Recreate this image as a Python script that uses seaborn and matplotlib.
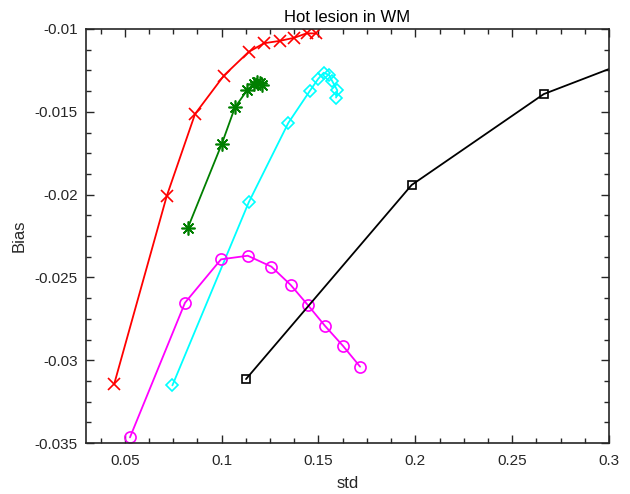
import numpy as np
import pandas as pd
import seaborn as sns
import matplotlib.pyplot as plt
from matplotlib.ticker import FixedLocator, FormatStrFormatter

# Data
red_x = [0.0445, 0.0717, 0.0863, 0.1012, 0.1139, 0.1219, 0.1299, 0.1375, 0.1439, 0.1487]
red_y = [-0.03146, -0.02008, -0.01513, -0.01281, -0.01139, -0.01086, -0.01072, -0.01053, -0.01026, -0.01027]

green_x = [0.0825, 0.1001, 0.1069, 0.1133, 0.1167, 0.1183, 0.1196, 0.1207]
green_y = [-0.02203, -0.01694, -0.01473, -0.01368, -0.01332, -0.01320, -0.01326, -0.01338]

cyan_x = [0.0746, 0.1140, 0.1344, 0.1456, 0.1498, 0.1527, 0.1555, 0.1570, 0.1597, 0.1591]
cyan_y = [-0.03152, -0.02047, -0.01568, -0.01373, -0.01302, -0.01264, -0.01278, -0.01312, -0.01370, -0.01414]

magenta_x = [0.0527, 0.0811, 0.0997, 0.1135, 0.1257, 0.1357, 0.1446, 0.1534, 0.1627, 0.1715]
magenta_y = [-0.03466, -0.02653, -0.02391, -0.02369, -0.02435, -0.02546, -0.02668, -0.02793, -0.02914, -0.03039]

black_x = [0.1126, 0.1981, 0.2663, 0.3400]
black_y = [-0.03114, -0.01942, -0.01393, -0.01062]

sns.set_style('ticks')
plt.rcParams['font.family'] = ['Liberation Sans', 'DejaVu Sans']
plt.rcParams['axes.unicode_minus'] = False

fig = plt.figure(figsize=(6.3, 4.94), dpi=100)
ax = fig.add_axes([0.1365, 0.1032, 0.8302, 0.8381])

series = [
    (red_x, red_y, '#FF0000', 'x', 8),
    (green_x, green_y, '#007F00', (8, 2, 0), 10),
    (cyan_x, cyan_y, '#00FFFF', 'D', 6),
    (magenta_x, magenta_y, '#FF00FF', 'o', 8),
    (black_x, black_y, '#000000', 's', 6),
]
for xs, ys, col, mk, ms in series:
    df = pd.DataFrame({'std': xs, 'Bias': ys})
    sns.lineplot(data=df, x='std', y='Bias', sort=False, estimator=None,
                 color=col, marker=mk, markersize=ms, markerfacecolor='none',
                 markeredgecolor=col, markeredgewidth=1.2, linewidth=1.3, ax=ax)

ax.set_xlim(0.03, 0.3)
ax.set_ylim(-0.035, -0.01)
ax.xaxis.set_major_locator(FixedLocator([0.05, 0.1, 0.15, 0.2, 0.25, 0.3]))
ax.xaxis.set_minor_locator(FixedLocator(np.arange(0.0375, 0.3, 0.0125)))
ax.yaxis.set_major_locator(FixedLocator([-0.035, -0.03, -0.025, -0.02, -0.015, -0.01]))
ax.yaxis.set_minor_locator(FixedLocator(np.arange(-0.035, -0.0099, 0.00125)))
ax.xaxis.set_major_formatter(FormatStrFormatter('%g'))
ax.yaxis.set_major_formatter(FormatStrFormatter('%g'))

gray = '#262626'
for s in ax.spines.values():
    s.set_visible(True)
    s.set_color(gray)
    s.set_linewidth(1.2)
ax.tick_params(which='both', direction='in', top=True, right=True, colors=gray,
               labelsize=11, width=1.0)
ax.tick_params(which='major', length=6)
ax.tick_params(which='minor', length=3.5)
ax.tick_params(axis='x', which='major', pad=8)
ax.tick_params(axis='y', which='major', pad=6)
for lbl in ax.get_xticklabels() + ax.get_yticklabels():
    lbl.set_color(gray)

ax.set_xlabel('std', fontsize=12, color=gray, labelpad=6)
ax.set_ylabel('Bias', fontsize=12, color=gray, labelpad=6)
ax.set_title('Hot lesion in WM', fontsize=12, color='black', pad=5)

fig.savefig('out.png', dpi=100)
